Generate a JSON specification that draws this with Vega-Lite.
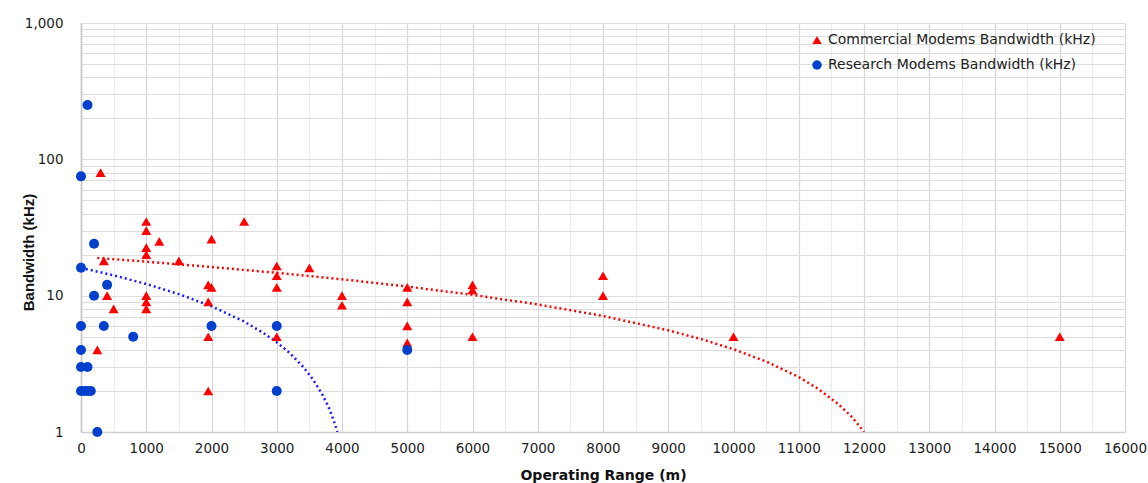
{
  "$schema": "https://vega.github.io/schema/vega-lite/v6.json",
  "width": 1044,
  "height": 409,
  "autosize": {"type": "none"},
  "padding": {"left": 81, "top": 23, "right": 23, "bottom": 51},
  "background": "white",
  "config": {"view": {"stroke": null}, "font": "DejaVu Sans"},
  "datasets": {
    "modems": [
      {"series": "Commercial Modems Bandwidth (kHz)", "range": 300, "bandwidth": 80},
      {"series": "Commercial Modems Bandwidth (kHz)", "range": 350, "bandwidth": 18},
      {"series": "Commercial Modems Bandwidth (kHz)", "range": 400, "bandwidth": 10},
      {"series": "Commercial Modems Bandwidth (kHz)", "range": 500, "bandwidth": 8},
      {"series": "Commercial Modems Bandwidth (kHz)", "range": 250, "bandwidth": 4},
      {"series": "Commercial Modems Bandwidth (kHz)", "range": 1000, "bandwidth": 35},
      {"series": "Commercial Modems Bandwidth (kHz)", "range": 1000, "bandwidth": 30},
      {"series": "Commercial Modems Bandwidth (kHz)", "range": 1000, "bandwidth": 22.5},
      {"series": "Commercial Modems Bandwidth (kHz)", "range": 1000, "bandwidth": 20},
      {"series": "Commercial Modems Bandwidth (kHz)", "range": 1000, "bandwidth": 10},
      {"series": "Commercial Modems Bandwidth (kHz)", "range": 1000, "bandwidth": 9},
      {"series": "Commercial Modems Bandwidth (kHz)", "range": 1000, "bandwidth": 8},
      {"series": "Commercial Modems Bandwidth (kHz)", "range": 1200, "bandwidth": 25},
      {"series": "Commercial Modems Bandwidth (kHz)", "range": 1500, "bandwidth": 18},
      {"series": "Commercial Modems Bandwidth (kHz)", "range": 1950, "bandwidth": 12},
      {"series": "Commercial Modems Bandwidth (kHz)", "range": 2000, "bandwidth": 11.5},
      {"series": "Commercial Modems Bandwidth (kHz)", "range": 1950, "bandwidth": 9},
      {"series": "Commercial Modems Bandwidth (kHz)", "range": 1950, "bandwidth": 5},
      {"series": "Commercial Modems Bandwidth (kHz)", "range": 1950, "bandwidth": 2},
      {"series": "Commercial Modems Bandwidth (kHz)", "range": 2000, "bandwidth": 26},
      {"series": "Commercial Modems Bandwidth (kHz)", "range": 2500, "bandwidth": 35},
      {"series": "Commercial Modems Bandwidth (kHz)", "range": 3000, "bandwidth": 16.5},
      {"series": "Commercial Modems Bandwidth (kHz)", "range": 3000, "bandwidth": 14},
      {"series": "Commercial Modems Bandwidth (kHz)", "range": 3000, "bandwidth": 11.5},
      {"series": "Commercial Modems Bandwidth (kHz)", "range": 3000, "bandwidth": 5},
      {"series": "Commercial Modems Bandwidth (kHz)", "range": 3500, "bandwidth": 16},
      {"series": "Commercial Modems Bandwidth (kHz)", "range": 4000, "bandwidth": 10},
      {"series": "Commercial Modems Bandwidth (kHz)", "range": 4000, "bandwidth": 8.5},
      {"series": "Commercial Modems Bandwidth (kHz)", "range": 5000, "bandwidth": 11.5},
      {"series": "Commercial Modems Bandwidth (kHz)", "range": 5000, "bandwidth": 9},
      {"series": "Commercial Modems Bandwidth (kHz)", "range": 5000, "bandwidth": 6},
      {"series": "Commercial Modems Bandwidth (kHz)", "range": 5000, "bandwidth": 4.5},
      {"series": "Commercial Modems Bandwidth (kHz)", "range": 6000, "bandwidth": 12},
      {"series": "Commercial Modems Bandwidth (kHz)", "range": 6000, "bandwidth": 11},
      {"series": "Commercial Modems Bandwidth (kHz)", "range": 6000, "bandwidth": 5},
      {"series": "Commercial Modems Bandwidth (kHz)", "range": 8000, "bandwidth": 14},
      {"series": "Commercial Modems Bandwidth (kHz)", "range": 8000, "bandwidth": 10},
      {"series": "Commercial Modems Bandwidth (kHz)", "range": 10000, "bandwidth": 5},
      {"series": "Commercial Modems Bandwidth (kHz)", "range": 15000, "bandwidth": 5},
      {"series": "Research Modems Bandwidth (kHz)", "range": 100, "bandwidth": 250},
      {"series": "Research Modems Bandwidth (kHz)", "range": 0, "bandwidth": 75},
      {"series": "Research Modems Bandwidth (kHz)", "range": 200, "bandwidth": 24},
      {"series": "Research Modems Bandwidth (kHz)", "range": 0, "bandwidth": 16},
      {"series": "Research Modems Bandwidth (kHz)", "range": 400, "bandwidth": 12},
      {"series": "Research Modems Bandwidth (kHz)", "range": 200, "bandwidth": 10},
      {"series": "Research Modems Bandwidth (kHz)", "range": 0, "bandwidth": 6},
      {"series": "Research Modems Bandwidth (kHz)", "range": 350, "bandwidth": 6},
      {"series": "Research Modems Bandwidth (kHz)", "range": 800, "bandwidth": 5},
      {"series": "Research Modems Bandwidth (kHz)", "range": 0, "bandwidth": 4},
      {"series": "Research Modems Bandwidth (kHz)", "range": 0, "bandwidth": 3},
      {"series": "Research Modems Bandwidth (kHz)", "range": 100, "bandwidth": 3},
      {"series": "Research Modems Bandwidth (kHz)", "range": 0, "bandwidth": 2},
      {"series": "Research Modems Bandwidth (kHz)", "range": 50, "bandwidth": 2},
      {"series": "Research Modems Bandwidth (kHz)", "range": 100, "bandwidth": 2},
      {"series": "Research Modems Bandwidth (kHz)", "range": 150, "bandwidth": 2},
      {"series": "Research Modems Bandwidth (kHz)", "range": 250, "bandwidth": 1},
      {"series": "Research Modems Bandwidth (kHz)", "range": 2000, "bandwidth": 6},
      {"series": "Research Modems Bandwidth (kHz)", "range": 3000, "bandwidth": 6},
      {"series": "Research Modems Bandwidth (kHz)", "range": 3000, "bandwidth": 2},
      {"series": "Research Modems Bandwidth (kHz)", "range": 5000, "bandwidth": 4}
    ],
    "trend_commercial": [
      {"range": 250, "bandwidth": 18.9},
      {"range": 1000, "bandwidth": 17.76},
      {"range": 2000, "bandwidth": 16.23},
      {"range": 3000, "bandwidth": 14.71},
      {"range": 4000, "bandwidth": 13.19},
      {"range": 5000, "bandwidth": 11.67},
      {"range": 6000, "bandwidth": 10.14},
      {"range": 7000, "bandwidth": 8.62},
      {"range": 8000, "bandwidth": 7.1},
      {"range": 9000, "bandwidth": 5.57},
      {"range": 9500, "bandwidth": 4.81},
      {"range": 10000, "bandwidth": 4.05},
      {"range": 10500, "bandwidth": 3.29},
      {"range": 11000, "bandwidth": 2.53},
      {"range": 11300, "bandwidth": 2.07},
      {"range": 11600, "bandwidth": 1.61},
      {"range": 11800, "bandwidth": 1.31},
      {"range": 11900, "bandwidth": 1.15},
      {"range": 12000, "bandwidth": 1.0}
    ],
    "trend_research": [
      {"range": 0, "bandwidth": 16},
      {"range": 500, "bandwidth": 14.09},
      {"range": 1000, "bandwidth": 12.18},
      {"range": 1500, "bandwidth": 10.27},
      {"range": 2000, "bandwidth": 8.37},
      {"range": 2500, "bandwidth": 6.46},
      {"range": 2800, "bandwidth": 5.31},
      {"range": 3000, "bandwidth": 4.55},
      {"range": 3200, "bandwidth": 3.79},
      {"range": 3400, "bandwidth": 3.02},
      {"range": 3550, "bandwidth": 2.45},
      {"range": 3700, "bandwidth": 1.88},
      {"range": 3800, "bandwidth": 1.5},
      {"range": 3870, "bandwidth": 1.23},
      {"range": 3930, "bandwidth": 1.0}
    ]
  },
  "encoding": {
    "x": {
      "field": "range",
      "type": "quantitative",
      "title": "Operating Range (m)",
      "scale": {"domain": [0, 16000], "nice": false, "zero": false},
      "axis": {
        "values": [0, 500, 1000, 1500, 2000, 2500, 3000, 3500, 4000, 4500, 5000, 5500, 6000, 6500, 7000, 7500, 8000, 8500, 9000, 9500, 10000, 10500, 11000, 11500, 12000, 12500, 13000, 13500, 14000, 14500, 15000, 15500, 16000],
        "labelExpr": "datum.value % 1000 === 0 ? format(datum.value, 'd') : ''",
        "ticks": false,
        "grid": true,
        "gridColor": {"condition": {"test": "datum.value % 1000 === 0", "value": "#d6d6d6"}, "value": "#ececec"},
        "gridWidth": 1.2,
        "domainColor": "#d0d0d0",
        "domainWidth": 1.5,
        "labelFont": "DejaVu Sans",
        "labelFontSize": 13.5,
        "labelColor": "#222222",
        "labelPadding": 9,
        "labelFlush": false,
        "labelOverlap": false,
        "titleFont": "DejaVu Sans",
        "titleFontWeight": "bold",
        "titleFontSize": 14,
        "titleColor": "#111111",
        "titleBaseline": "middle",
        "titleY": 43
      }
    },
    "y": {
      "field": "bandwidth",
      "type": "quantitative",
      "title": "Bandwidth (kHz)",
      "scale": {"type": "log", "domain": [1, 1000], "nice": false},
      "axis": {
        "values": [1, 2, 3, 4, 5, 6, 7, 8, 9, 10, 20, 30, 40, 50, 60, 70, 80, 90, 100, 200, 300, 400, 500, 600, 700, 800, 900, 1000],
        "labelExpr": "datum.value === 1 || datum.value === 10 || datum.value === 100 || datum.value === 1000 ? format(datum.value, ',') : ''",
        "ticks": false,
        "grid": true,
        "gridColor": "#dedede",
        "gridWidth": 1.2,
        "domainColor": "#c4c4c4",
        "domainWidth": 1.5,
        "labelFont": "DejaVu Sans",
        "labelFontSize": 13.5,
        "labelColor": "#222222",
        "labelPadding": 18,
        "labelOverlap": false,
        "titleFont": "Liberation Sans",
        "titleFontWeight": "bold",
        "titleFontSize": 15,
        "titleColor": "#111111",
        "titleAngle": -90,
        "titleAlign": "center",
        "titleBaseline": "middle",
        "titleX": -53,
        "titleY": 229
      }
    }
  },
  "layer": [
    {
      "data": {"name": "trend_research"},
      "mark": {"type": "line", "color": "#1a1aff", "strokeWidth": 2.5, "strokeDash": [2, 3], "clip": true},
      "encoding": {}
    },
    {
      "data": {"name": "trend_commercial"},
      "mark": {"type": "line", "color": "#ff0000", "strokeWidth": 2.5, "strokeDash": [2, 3], "clip": true},
      "encoding": {}
    },
    {
      "data": {"name": "modems"},
      "mark": {"type": "point", "filled": true, "opacity": 1, "size": 100},
      "encoding": {
        "color": {
          "field": "series",
          "type": "nominal",
          "scale": {"domain": ["Commercial Modems Bandwidth (kHz)", "Research Modems Bandwidth (kHz)"], "range": ["#ff0000", "#0040cc"]},
          "legend": {
            "orient": "none",
            "legendX": 729,
            "legendY": 10,
            "title": null,
            "padding": 0,
            "labelFont": "DejaVu Sans",
            "labelFontSize": 14,
            "labelColor": "#222222",
            "labelOffset": 4,
            "labelLimit": 500,
            "symbolSize": 90,
            "rowPadding": 11
          }
        },
        "shape": {
          "field": "series",
          "type": "nominal",
          "scale": {"domain": ["Commercial Modems Bandwidth (kHz)", "Research Modems Bandwidth (kHz)"], "range": ["triangle-up", "circle"]}
        }
      }
    }
  ]
}
